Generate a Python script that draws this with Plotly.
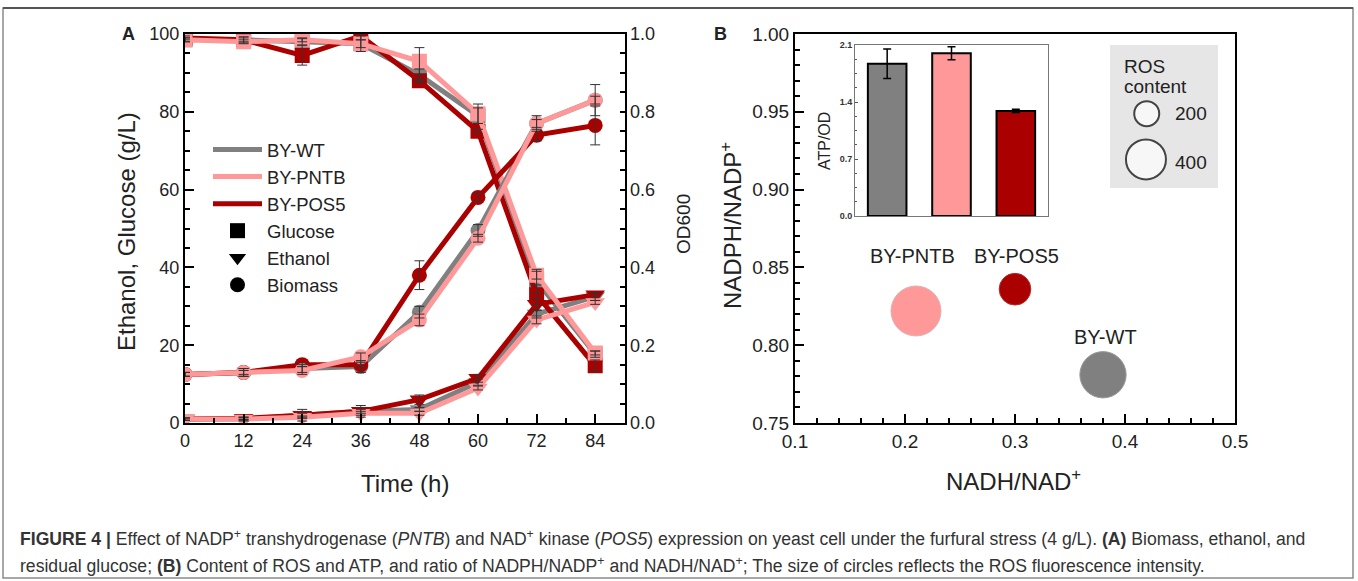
import plotly.graph_objects as go

W, H = 1358, 581

# ---------------- data ----------------
time_h = [0, 12, 24, 36, 48, 60, 72, 84]
strains = ["BY-WT", "BY-PNTB", "BY-POS5"]
strain_colors = ["#808080", "#ff9999", "#aa0000"]

glucose_wt = [98.5, 98.5, 98.0, 97.5, 89.5, 79.0, 36.5, 17.7]
glucose_pntb = [98.5, 98.0, 98.5, 97.5, 93.0, 79.5, 38.0, 18.0]
glucose_pos5 = [99.0, 98.5, 94.5, 99.5, 88.0, 75.0, 33.0, 14.7]
glucose_wt_err = [0.5, 0.8, 0.8, 2.0, 1.5, 2.0, 3.0, 0.8]
glucose_pntb_err = [0.5, 0.5, 0.5, 1.0, 3.5, 2.5, 1.0, 0.5]
glucose_pos5_err = [0.5, 0.5, 2.5, 1.0, 0.5, 0.5, 2.5, 1.5]

ethanol_wt = [1.0, 1.0, 2.0, 3.0, 3.5, 10.5, 28.0, 32.5]
ethanol_pntb = [1.0, 1.0, 1.5, 2.5, 2.5, 9.0, 26.5, 31.0]
ethanol_pos5 = [1.0, 1.2, 2.0, 3.0, 6.0, 11.5, 30.5, 33.0]
ethanol_wt_err = [0.3, 0.5, 1.5, 1.5, 0.5, 0.8, 1.0, 1.0]
ethanol_pntb_err = [0.3, 0.3, 0.3, 0.5, 0.5, 0.5, 1.0, 0.5]
ethanol_pos5_err = [0.3, 0.3, 0.5, 0.5, 1.2, 1.0, 1.5, 0.5]

biomass_wt = [0.125, 0.13, 0.14, 0.145, 0.285, 0.495, 0.77, 0.83]
biomass_pntb = [0.125, 0.13, 0.135, 0.17, 0.265, 0.475, 0.77, 0.83]
biomass_pos5 = [0.125, 0.13, 0.15, 0.15, 0.38, 0.58, 0.74, 0.765]
biomass_wt_err = [0.005, 0.01, 0.01, 0.015, 0.015, 0.015, 0.02, 0.04]
biomass_pntb_err = [0.005, 0.01, 0.01, 0.01, 0.015, 0.01, 0.01, 0.01]
biomass_pos5_err = [0.005, 0.005, 0.005, 0.005, 0.037, 0.01, 0.015, 0.05]

nadh_ratio = [0.38, 0.21, 0.30]
nadph_ratio = [0.781, 0.822, 0.836]
ros_content = [484, 533, 289]
atp_od = [1.87, 2.00, 1.29]
atp_od_err = [0.18, 0.08, 0.02]
ros_key_values = [200, 400]

xA_ticks = [0, 12, 24, 36, 48, 60, 72, 84]
yA_ticks = [0, 20, 40, 60, 80, 100]
yA2_ticks = [0.0, 0.2, 0.4, 0.6, 0.8, 1.0]
xB_ticks = [0.1, 0.2, 0.3, 0.4, 0.5]
yB_ticks = [0.75, 0.80, 0.85, 0.90, 0.95, 1.00]
inset_ticks = [0.0, 0.7, 1.4, 2.1]

# ---------------- helpers ----------------
def px_x(p):
    return p / W

def px_y(p):
    return 1 - p / H

SIZE0, SIZE_K = 10.0, 0.075
def ros_size(v):
    return SIZE0 + SIZE_K * v

FONT = "Liberation Sans, Arial, sans-serif"
TXT = "#222222"

fig = go.Figure()

# ---------------- panel A ----------------
series = {
    "BY-WT": (glucose_wt, glucose_wt_err, ethanol_wt, ethanol_wt_err, biomass_wt, biomass_wt_err),
    "BY-PNTB": (glucose_pntb, glucose_pntb_err, ethanol_pntb, ethanol_pntb_err, biomass_pntb, biomass_pntb_err),
    "BY-POS5": (glucose_pos5, glucose_pos5_err, ethanol_pos5, ethanol_pos5_err, biomass_pos5, biomass_pos5_err),
}
color_of = dict(zip(strains, strain_colors))
draw_order = ["BY-WT", "BY-POS5", "BY-PNTB"]
marker_size = {"square": 15, "triangle-down": 17, "circle": 15}

for name in draw_order:
    g, ge, e, ee, b, be = series[name]
    c = color_of[name]
    for vals, sym, yax in ((g, "square", "y"), (e, "triangle-down", "y"), (b, "circle", "y2")):
        fig.add_trace(go.Scatter(
            x=time_h, y=vals, mode="lines+markers", xaxis="x", yaxis=yax,
            line=dict(color=c, width=5), marker=dict(symbol=sym, size=marker_size[sym], color=c),
            showlegend=False, hoverinfo="skip"))

err_color = "#333333"
for name in draw_order:
    g, ge, e, ee, b, be = series[name]
    for vals, err, yax in ((g, ge, "y"), (e, ee, "y"), (b, be, "y2")):
        fig.add_trace(go.Scatter(
            x=time_h, y=vals, mode="markers", xaxis="x", yaxis=yax,
            marker=dict(size=1, color="rgba(0,0,0,0)"),
            error_y=dict(type="data", array=err, visible=True, color=err_color, thickness=1, width=5),
            showlegend=False, hoverinfo="skip"))

# legend entries
for name in strains:
    fig.add_trace(go.Scatter(x=[None], y=[None], mode="lines", name=name,
                             line=dict(color=color_of[name], width=5), xaxis="x", yaxis="y"))
for name, sym in (("Glucose", "square"), ("Ethanol", "triangle-down"), ("Biomass", "circle")):
    fig.add_trace(go.Scatter(x=[None], y=[None], mode="markers", name=name,
                             marker=dict(symbol=sym, size=15, color="black"), xaxis="x", yaxis="y"))

# ---------------- panel B ----------------
fig.add_trace(go.Scatter(
    x=nadh_ratio, y=nadph_ratio, mode="markers", xaxis="x2", yaxis="y3",
    marker=dict(size=[ros_size(v) for v in ros_content], color=strain_colors,
                line=dict(width=1, color=["#9a9a9a", "#e0b0b0", "#b52a2a"]), opacity=1),
    showlegend=False, hoverinfo="skip"))

# inset ATP/OD bars
fig.add_trace(go.Bar(
    x=strains, y=atp_od, xaxis="x3", yaxis="y4", width=0.6,
    marker=dict(color=strain_colors, line=dict(color="black", width=2)),
    error_y=dict(type="data", array=atp_od_err, visible=True, color="black", thickness=1.5, width=4),
    showlegend=False, hoverinfo="skip"))

# ROS key
ros_key_x = [0.34, 0.333]
ros_key_y = [0.52, 0.20]
fig.add_trace(go.Scatter(
    x=ros_key_x, y=ros_key_y, mode="markers", xaxis="x4", yaxis="y5",
    marker=dict(size=[ros_size(v) for v in ros_key_values], color="white",
                line=dict(width=2, color="black")),
    showlegend=False, hoverinfo="skip"))

# ---------------- axes ----------------
tickfont = dict(family=FONT, size=18, color=TXT)
common = dict(showline=True, linecolor="black", linewidth=2, ticks="inside", tickcolor="black",
              tickwidth=1.5, ticklen=9, showgrid=False, zeroline=False, tickfont=tickfont,
              automargin=False)

fig.update_layout(
    xaxis=dict(domain=[px_x(185), px_x(624.5)], range=[0, 90], anchor="y", tickvals=xA_ticks,
               mirror=True, minor=dict(dtick=6, ticks="inside", ticklen=5, tickcolor="black", tickwidth=1.5),
               **common),
    yaxis=dict(domain=[px_y(423), px_y(34)], range=[0, 100], anchor="x", tickvals=yA_ticks,
               mirror=True, minor=dict(dtick=5, ticks="inside", ticklen=5, tickcolor="black", tickwidth=1.5),
               **common),
    yaxis2=dict(overlaying="y", side="right", anchor="x", range=[0, 1], tickvals=yA2_ticks,
                tickformat=".1f",
                minor=dict(dtick=0.05, ticks="inside", ticklen=5, tickcolor="black", tickwidth=1.5),
                **{**common, "ticklen": 5}),
    xaxis2=dict(domain=[px_x(795), px_x(1235)], range=[0.1, 0.5], anchor="y3", tickvals=xB_ticks,
                tickformat=".1f", mirror=True,
                minor=dict(dtick=0.02, ticks="inside", ticklen=5, tickcolor="black", tickwidth=1.5),
                **{**common, "tickfont": dict(family=FONT, size=19, color=TXT)}),
    yaxis3=dict(domain=[px_y(423), px_y(34)], range=[0.75, 1.0], anchor="x2", tickvals=yB_ticks,
                tickformat=".2f", mirror=True,
                minor=dict(dtick=0.01, ticks="inside", ticklen=5, tickcolor="black", tickwidth=1.5),
                **{**common, "tickfont": dict(family=FONT, size=19, color=TXT)}),
    xaxis3=dict(domain=[px_x(855), px_x(1048)], range=[-0.5, 2.5], anchor="y4", showticklabels=False,
                ticks="", showline=True, linecolor="#777777", linewidth=1, mirror=True,
                showgrid=False, zeroline=False, automargin=False),
    yaxis4=dict(domain=[px_y(216), px_y(45)], range=[0, 2.1], anchor="x3", tickvals=inset_ticks,
                ticktext=["<b>%.1f</b>" % v for v in inset_ticks], ticks="inside", ticklen=3,
                tickcolor="#555555", tickwidth=1,
                minor=dict(dtick=0.175, ticks="inside", ticklen=2, tickcolor="#555555", tickwidth=1),
                tickfont=dict(family=FONT, size=9, color="#333333"), showline=True,
                linecolor="#777777", linewidth=1, mirror=True, showgrid=False, zeroline=False,
                automargin=False),
    xaxis4=dict(domain=[px_x(1110), px_x(1218)], range=[0, 1], anchor="y5", visible=False,
                automargin=False),
    yaxis5=dict(domain=[px_y(188), px_y(45)], range=[0, 1], anchor="x4", visible=False,
                automargin=False),
)

# ---------------- layout, legend, text ----------------
fig.update_layout(
    width=W, height=H, margin=dict(l=0, r=0, t=0, b=0, pad=0, autoexpand=False),
    paper_bgcolor="white", plot_bgcolor="rgba(0,0,0,0)",
    font=dict(family=FONT, color=TXT),
    showlegend=True,
    legend=dict(x=px_x(208), y=px_y(131), xanchor="left", yanchor="top",
                bgcolor="rgba(0,0,0,0)", font=dict(family=FONT, size=18.5, color=TXT),
                itemwidth=49, tracegroupgap=0),
)

shapes = [
    dict(type="rect", xref="paper", yref="paper", x0=px_x(3), x1=px_x(1353), y0=px_y(578), y1=px_y(8),
         line=dict(color="#8a8a8a", width=1.5), fillcolor="rgba(0,0,0,0)", layer="below"),
    dict(type="line", xref="paper", yref="paper", x0=px_x(3), x1=px_x(1353), y0=px_y(8), y1=px_y(8),
         line=dict(color="#555555", width=2), layer="below"),
    dict(type="rect", xref="x4", yref="y5", x0=0, x1=1, y0=0, y1=1,
         line=dict(width=0), fillcolor="#e6e6e6", layer="below"),
]

ann = []
def add_text(text, x, y, size, xanchor="center", yanchor="middle", angle=0, xref="paper", yref="paper",
             color=TXT, family=FONT, xshift=0, yshift=0):
    ann.append(dict(text=text, x=x, y=y, xref=xref, yref=yref, showarrow=False, xanchor=xanchor,
                    yanchor=yanchor, textangle=angle, font=dict(family=family, size=size, color=color),
                    xshift=xshift, yshift=yshift))

add_text("<b>A</b>", px_x(128), px_y(34), 18)
add_text("<b>B</b>", px_x(720), px_y(34), 18)
add_text("Time (h)", px_x(405), px_y(483), 24)
add_text("Ethanol, Glucose (g/L)", px_x(127), px_y(232), 24, angle=-90)
add_text("OD600", px_x(683), px_y(224), 19, angle=-90)
add_text("NADH/NAD<sup>+</sup>", px_x(1013), px_y(480), 24)
add_text("NADPH/NADP<sup>+</sup>", px_x(731), px_y(226), 24, angle=-90)
add_text("ATP/OD", px_x(825), px_y(141), 16, angle=-90)

# bubble labels
label_dx = [2, -4, 1]
label_dy = [38, 55, 33]
for i, name in enumerate(strains):
    add_text(name, nadh_ratio[i], nadph_ratio[i], 20, xref="x2", yref="y3",
             xshift=label_dx[i], yshift=label_dy[i])

# ROS key text
add_text("ROS", 0.111, 0.85, 19, xanchor="left", xref="x4", yref="y5")
add_text("content", 0.111, 0.71, 19, xanchor="left", xref="x4", yref="y5")
for v, yk in zip(ros_key_values, [0.52, 0.18]):
    add_text(str(v), 0.58, yk, 19, xanchor="left", xref="x4", yref="y5")

# caption
CAP_FONT = "Liberation Sans, Arial, sans-serif"
cap1 = ("<b>FIGURE 4 |</b> Effect of NADP<sup>+</sup> transhydrogenase (<i>PNTB</i>) and NAD<sup>+</sup> "
        "kinase (<i>POS5</i>) expression on yeast cell under the furfural stress (4 g/L). "
        "<b>(A)</b> Biomass, ethanol, and")
cap2 = ("residual glucose; <b>(B)</b> Content of ROS and ATP, and ratio of NADPH/NADP<sup>+</sup> and "
        "NADH/NAD<sup>+</sup>; The size of circles reflects the ROS fluorescence intensity.")
add_text(cap1, px_x(18), px_y(538), 17.6, xanchor="left", family=CAP_FONT, color="#333333")
add_text(cap2, px_x(18), px_y(565), 17.6, xanchor="left", family=CAP_FONT, color="#333333")

fig.update_layout(shapes=shapes, annotations=ann)

fig.write_html("out.html", config={"displayModeBar": False},
               post_script="document.body.style.margin='0px';")
